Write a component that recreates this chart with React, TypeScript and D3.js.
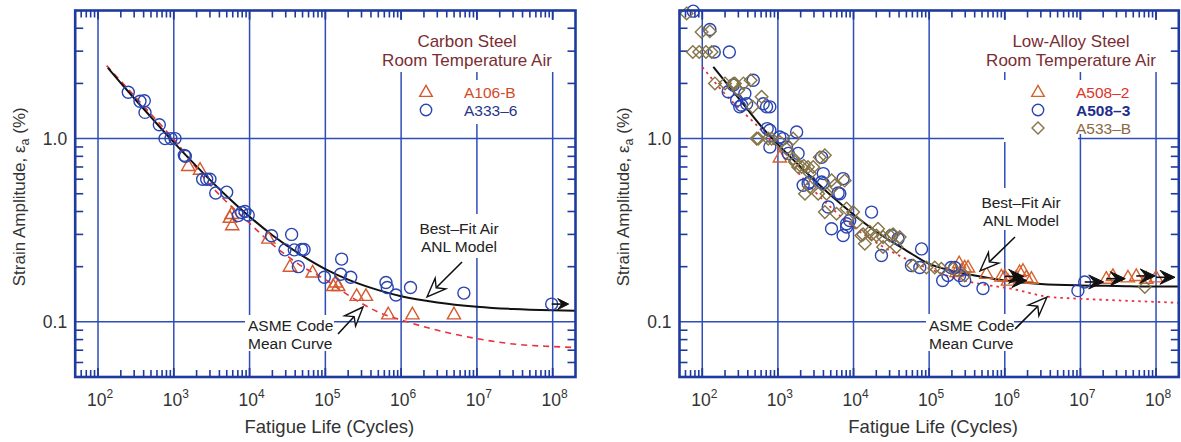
import React from "react";
import * as d3 from "d3";

// ---------- axes ----------
const X_DOMAIN: [number, number] = [50, 2e8];
const Y_DOMAIN: [number, number] = [0.05, 5];
const X_DECADES = [1e2, 1e3, 1e4, 1e5, 1e6, 1e7, 1e8];
const X_EXPONENTS = ["2", "3", "4", "5", "6", "7", "8"];
const Y_MAJOR = [0.1, 1];
const Y_LABELS = ["0.1", "1.0"];

// ---------- Carbon steel (left) ----------
const csA106N = [1550, 2220, 5500, 5800, 5900, 17700, 34100, 67900, 127000, 137000, 148000, 259000, 343000, 676000, 1410000, 4980000];
const csA106E = [0.71, 0.677, 0.37, 0.388, 0.337, 0.285, 0.2, 0.186, 0.157, 0.164, 0.157, 0.1387, 0.1387, 0.11, 0.11, 0.11];
const csA333N = [251, 358, 408, 417, 644, 766, 918, 1037, 1377, 1420, 2404, 2716, 3000, 3573, 4990, 7100, 7870, 8700, 9600, 19500, 29300, 35900, 38900, 44000, 48600, 52300, 96900, 159000, 164000, 216000, 631000, 656000, 854000, 1330000, 6730000, 97000000];
const csA333E = [1.79, 1.6, 1.61, 1.39, 1.19, 1.0, 1.0, 1.0, 0.81, 0.8, 0.6, 0.6, 0.6, 0.505, 0.51, 0.38, 0.395, 0.4, 0.383, 0.295, 0.247, 0.3, 0.247, 0.2, 0.248, 0.248, 0.175, 0.182, 0.22, 0.175, 0.164, 0.154, 0.14, 0.154, 0.1435, 0.125];
const csA333Runout = [97000000];
const csFitN = [135, 200, 300, 500, 1000, 2000, 5000, 1e4, 2e4, 5e4, 1e5, 2e5, 5e5, 1e6, 3e6, 1e7, 3e7, 1e8, 2e8];
const csFitE = [2.43, 2.01, 1.66, 1.31, 0.953, 0.705, 0.485, 0.375, 0.297, 0.229, 0.194, 0.17, 0.149, 0.138, 0.1276, 0.121, 0.1175, 0.1155, 0.1148];
const csAsmeN = [130, 200, 500, 1000, 3000, 1e4, 2e4, 5e4, 1e5, 2e5, 5e5, 1.2e6, 4e6, 1e7, 3e7, 1e8, 2e8];
const csAsmeE = [2.5, 2.06, 1.36, 0.99, 0.56, 0.345, 0.265, 0.2, 0.17, 0.14, 0.113, 0.1, 0.0875, 0.081, 0.0757, 0.0733, 0.0724];

// ---------- Low-alloy steel (right) ----------
const lasA5082N = [1060, 230000, 249000, 267000, 295000, 327000, 571000, 900000, 998000, 1100000, 1420000, 1570000, 1740000, 1930000, 2250000, 22000000, 26900000, 42500000, 54800000, 74300000, 100000000];
const lasA5082E = [0.79, 0.187, 0.209, 0.19, 0.198, 0.198, 0.183, 0.177, 0.177, 0.168, 0.175, 0.187, 0.19, 0.175, 0.172, 0.172, 0.178, 0.175, 0.178, 0.172, 0.175];
const lasA5082Runout = [998000, 1100000, 22000000, 54800000, 100000000];
const lasA5083N = [76, 126, 144, 228, 220, 257, 331, 366, 386, 472, 708, 783, 722, 783, 1060, 1300, 1770, 1850, 3780, 2510, 3780, 6590, 7290, 4630, 17300, 8090, 7290, 8900, 23400, 5120, 8090, 31800, 38800, 79400, 58300, 75200, 195000, 177000, 253000, 295000, 515000, 151000, 218000, 9270000, 11400000, 2160, 2640, 3980, 6260, 3980, 1370, 783, 1170, 640, 285, 313];
const lasA5083E = [4.96, 3.94, 2.97, 2.97, 1.8, 1.96, 1.52, 1.76, 1.55, 2.08, 1.49, 1.49, 1.134, 0.9, 1.02, 0.9, 1.087, 0.83, 0.79, 0.568, 0.58, 0.5, 0.605, 0.423, 0.397, 0.329, 0.296, 0.357, 0.23, 0.322, 0.343, 0.296, 0.284, 0.25, 0.203, 0.198, 0.198, 0.179, 0.179, 0.168, 0.152, 0.168, 0.198, 0.148, 0.165, 0.556, 0.58, 0.568, 0.505, 0.644, 0.83, 1.11, 1.0, 1.55, 1.62, 1.49];
const lasA5083Runout = [11400000];
const lasA533N = [62, 98, 126, 75, 91, 112, 133, 147, 200, 257, 299, 436, 463, 609, 550, 745, 826, 1060, 1590, 1680, 2060, 2650, 2930, 4180, 2280, 2650, 3410, 4400, 5130, 5660, 4180, 5960, 8090, 9890, 10970, 12700, 14100, 17300, 21100, 24600, 30200, 37000, 13400, 16400, 20100, 24600, 33400, 40800, 61400, 92000, 118600, 145000, 207000, 295000, 71000000, 524, 270, 350, 1300, 1590, 1850, 2200, 2500, 3580, 7640];
const lasA533E = [4.82, 3.82, 3.85, 2.97, 2.97, 2.97, 2.97, 2.0, 2.0, 1.99, 1.84, 2.08, 1.49, 1.69, 1.0, 1.0, 1.0, 0.958, 1.0, 0.745, 0.7, 0.644, 0.7, 0.81, 0.5, 0.544, 0.5, 0.5, 0.592, 0.556, 0.397, 0.389, 0.415, 0.397, 0.35, 0.296, 0.267, 0.3, 0.322, 0.256, 0.296, 0.256, 0.3, 0.31, 0.296, 0.29, 0.3, 0.29, 0.203, 0.198, 0.198, 0.195, 0.195, 0.179, 0.155, 1.0, 2.0, 2.0, 0.88, 0.78, 0.7, 0.71, 0.7, 0.79, 0.59];
const lasFitN = [140, 300, 640, 1000, 2000, 5000, 1e4, 2e4, 5e4, 1e5, 2e5, 5e5, 1e6, 3e6, 1e7, 3e7, 1e8, 2e8];
const lasFitE = [2.46, 1.67, 1.134, 0.93, 0.7, 0.49, 0.385, 0.31, 0.245, 0.207, 0.19, 0.176, 0.168, 0.161, 0.158, 0.157, 0.156, 0.156];
const lasAsmeN = [100, 200, 578, 1000, 3000, 1e4, 3e4, 1e5, 2e5, 4.2e5, 1.28e6, 3.55e6, 1e7, 3e7, 1e8, 2e8];
const lasAsmeE = [2.46, 1.75, 1.134, 0.88, 0.52, 0.33, 0.245, 0.195, 0.175, 0.1625, 0.151, 0.1375, 0.1336, 0.131, 0.1285, 0.127];

// ---------- styling ----------
const FONT = "'Liberation Sans', Arial, Helvetica, sans-serif";
const FRAME = "#1f3a9e";
const GRID = "#2f4db8";
const TEXT = "#333333";
const Y_RANGE: [number, number] = [377, 10.5];

type Series = {
  name: string;
  N: number[];
  E: number[];
  shape: "circle" | "triangle" | "diamond";
  color: string;
  labelColor: string;
  runout?: number[];
  bold?: boolean;
};

type Curve = { N: number[]; E: number[]; color: string; dash?: string; width: number };

type Note = {
  lines: string[];
  x: number;
  y: number;
  anchor: "start" | "middle";
  box: [number, number, number, number];
  arrow: [number, number, number, number];
};

type PanelCfg = {
  xRange: [number, number];
  title: string[];
  titleX: number;
  titleBox: [number, number, number, number];
  legendBoxes: [number, number, number, number][];
  legendSymX: number;
  legendTextX: number;
  series: Series[];
  fit: Curve;
  asme: Curve;
  notes: Note[];
  yTitleX: number;
  headLen: number;
  headHalf: number;
  runLen: number;
};

function markerPath(shape: string, s = 1) {
  if (shape === "triangle") return `M0,${-7 * s}L${6.6 * s},${4.6 * s}L${-6.6 * s},${4.6 * s}Z`;
  if (shape === "diamond") return `M0,${-6.3 * s}L${6.3 * s},0L0,${6.3 * s}L${-6.3 * s},0Z`;
  const r = 6 * s;
  return `M${r},0A${r},${r} 0 1,1 ${-r},0A${r},${r} 0 1,1 ${r},0Z`;
}

function hollowArrow(a: [number, number, number, number]) {
  const [x1, y1, x2, y2] = a;
  const dx = x2 - x1, dy = y2 - y1;
  const len = Math.hypot(dx, dy);
  const ux = dx / len, uy = dy / len;
  const nx = -uy, ny = ux;
  const hl = 19, hw = 7.5, notch = 6;
  const bx = x2 - ux * hl, by = y2 - uy * hl;
  const mx = x2 - ux * (hl - notch), my = y2 - uy * (hl - notch);
  const head = `M${x2},${y2}L${bx + nx * hw},${by + ny * hw}L${mx},${my}L${bx - nx * hw},${by - ny * hw}Z`;
  return { shaft: `M${x1},${y1}L${mx},${my}`, head };
}

function Panel({ cfg }: { cfg: PanelCfg }) {
  const x = d3.scaleLog().domain(X_DOMAIN).range(cfg.xRange);
  const y = d3.scaleLog().domain(Y_DOMAIN).range(Y_RANGE);
  const [x0, x1] = cfg.xRange;
  const [yb, yt] = Y_RANGE;

  const minorX: number[] = [];
  for (let e = 1; e <= 8; e++) for (let k = 2; k <= 9; k++) {
    const v = k * Math.pow(10, e);
    if (v > X_DOMAIN[0] * 1.0001 && v < X_DOMAIN[1] * 0.9999) minorX.push(v);
  }
  const minorY: number[] = [];
  for (let e = -2; e <= 0; e++) for (let k = 2; k <= 9; k++) {
    const v = k * Math.pow(10, e);
    if (v > Y_DOMAIN[0] * 1.0001 && v < Y_DOMAIN[1] * 0.9999) minorY.push(v);
  }

  const line = d3
    .line<[number, number]>()
    .x((d) => x(d[0]))
    .y((d) => y(d[1]))
    .curve(d3.curveMonotoneX);

  const pts = (N: number[], E: number[]) => N.map((n, i) => [n, E[i]] as [number, number]);
  const tl = 7;
  const ml = 9;
  const cx = (x0 + x1) / 2;
  const cy = (yb + yt) / 2;

  return (
    <g>
      {/* grid */}
      {X_DECADES.map((d) => (
        <line key={"gx" + d} x1={x(d)} x2={x(d)} y1={yt} y2={yb} stroke={GRID} strokeWidth={1.5} />
      ))}
      {Y_MAJOR.map((d) => (
        <line key={"gy" + d} x1={x0} x2={x1} y1={y(d)} y2={y(d)} stroke={GRID} strokeWidth={1.5} />
      ))}

      {/* white boxes behind text */}
      {[cfg.titleBox, ...cfg.legendBoxes, ...cfg.notes.map((n) => n.box)].map((b, i) => (
        <rect key={"bx" + i} x={b[0]} y={b[1]} width={b[2] - b[0]} height={b[3] - b[1]} fill="#ffffff" />
      ))}

      {/* ticks */}
      {minorX.map((v) => (
        <g key={"tx" + v}>
          <line x1={x(v)} x2={x(v)} y1={yb} y2={yb - tl} stroke={FRAME} strokeWidth={1.6} />
          <line x1={x(v)} x2={x(v)} y1={yt} y2={yt + tl} stroke={FRAME} strokeWidth={1.6} />
        </g>
      ))}
      {X_DECADES.map((v) => (
        <g key={"txm" + v}>
          <line x1={x(v)} x2={x(v)} y1={yb} y2={yb - ml} stroke={FRAME} strokeWidth={1.8} />
          <line x1={x(v)} x2={x(v)} y1={yt} y2={yt + ml} stroke={FRAME} strokeWidth={1.8} />
        </g>
      ))}
      {minorY.map((v) => (
        <g key={"ty" + v}>
          <line x1={x0} x2={x0 + tl + 1} y1={y(v)} y2={y(v)} stroke={FRAME} strokeWidth={1.6} />
          <line x1={x1} x2={x1 - tl - 1} y1={y(v)} y2={y(v)} stroke={FRAME} strokeWidth={1.6} />
        </g>
      ))}

      {/* curves */}
      <path d={line(pts(cfg.asme.N, cfg.asme.E)) || ""} fill="none" stroke={cfg.asme.color} strokeWidth={cfg.asme.width} strokeDasharray={cfg.asme.dash} />
      <path d={line(pts(cfg.fit.N, cfg.fit.E)) || ""} fill="none" stroke={cfg.fit.color} strokeWidth={cfg.fit.width} />

      {/* data markers */}
      {cfg.series.map((s) => (
        <g key={s.name}>
          {s.N.map((n, i) => (
            <path
              key={i}
              d={markerPath(s.shape)}
              transform={`translate(${x(n)},${y(s.E[i])})`}
              fill="none"
              stroke={s.color}
              strokeWidth={1.4}
            />
          ))}
        </g>
      ))}

      {/* run-out arrows */}
      {cfg.series.map((s) =>
        s.N.map((n, i) => {
          if (!s.runout || !s.runout.includes(n)) return null;
          const px = x(n), py = y(s.E[i]);
          const L = cfg.runLen, H = cfg.headLen, W = cfg.headHalf;
          const tip = px + L;
          return (
            <g key={s.name + "ro" + i}>
              <line x1={px} x2={tip - 4} y1={py} y2={py} stroke="#111" strokeWidth={1.6} />
              <path
                d={`M${tip},${py}L${tip - H},${py - W}L${tip - H * 0.62},${py}L${tip - H},${py + W}Z`}
                fill="#111"
                stroke="#111"
                strokeWidth={1}
              />
            </g>
          );
        })
      )}

      {/* frame */}
      <rect x={x0} y={yt} width={x1 - x0} height={yb - yt} fill="none" stroke={FRAME} strokeWidth={2.6} />

      {/* tick labels */}
      {X_DECADES.map((d, i) => (
        <text key={"lx" + d} x={x(d) + 2} y={406} textAnchor="middle" fontFamily={FONT} fontSize={17.5} fill={TEXT}>
          10
          <tspan fontSize={12} dy={-8}>
            {X_EXPONENTS[i]}
          </tspan>
        </text>
      ))}
      {Y_MAJOR.map((d, i) => (
        <text key={"ly" + d} x={x0 - 8} y={y(d) + 6} textAnchor="end" fontFamily={FONT} fontSize={17.5} fill={TEXT}>
          {Y_LABELS[i]}
        </text>
      ))}

      {/* axis titles */}
      <text x={cx + 4} y={433} textAnchor="middle" fontFamily={FONT} fontSize={18.5} fill={TEXT}>
        Fatigue Life (Cycles)
      </text>
      <text
        transform={`translate(${cfg.yTitleX},${cy + 3}) rotate(-90)`}
        textAnchor="middle"
        fontFamily={FONT}
        fontSize={17}
        fill={TEXT}
      >
        Strain Amplitude, ε
        <tspan fontSize={12.5} dy={4}>a</tspan>
        <tspan dy={-4}> (%)</tspan>
      </text>

      {/* legend */}
      {cfg.title.map((t, i) => (
        <text key={"tt" + i} x={cfg.titleX} y={47 + i * 19} textAnchor="middle" fontFamily={FONT} fontSize={17} fill="#7a2d33">
          {t}
        </text>
      ))}
      {cfg.series.map((s, i) => (
        <g key={"lg" + s.name}>
          <path d={markerPath(s.shape, 0.95)} transform={`translate(${cfg.legendSymX},${92 + i * 18})`} fill="none" stroke={s.color} strokeWidth={1.4} />
          <text x={cfg.legendTextX} y={97.5 + i * 18} fontFamily={FONT} fontSize={15.5} fill={s.labelColor} fontWeight={s.bold ? 600 : 400}>
            {s.name}
          </text>
        </g>
      ))}

      {/* annotations */}
      {cfg.notes.map((n, i) => {
        const ar = hollowArrow(n.arrow);
        return (
          <g key={"nt" + i}>
            {n.lines.map((l, j) => (
              <text key={j} x={n.x} y={n.y + j * 17.5} textAnchor={n.anchor} fontFamily={FONT} fontSize={15.5} fill="#222">
                {l}
              </text>
            ))}
            <path d={ar.shaft} stroke="#111" strokeWidth={1.6} fill="none" />
            <path d={ar.head} stroke="#111" strokeWidth={1.4} fill="#ffffff" strokeLinejoin="miter" />
          </g>
        );
      })}
    </g>
  );
}

const leftCfg: PanelCfg = {
  xRange: [75.2, 575.5],
  title: ["Carbon Steel", "Room Temperature Air"],
  titleX: 467,
  titleBox: [376, 20, 558, 72],
  legendBoxes: [[405, 80, 522, 124]],
  legendSymX: 426,
  legendTextX: 464,
  series: [
    { name: "A106-B", N: csA106N, E: csA106E, shape: "triangle", color: "#d5582e", labelColor: "#d24a2a" },
    { name: "A333\u20136", N: csA333N, E: csA333E, shape: "circle", color: "#2a45b0", labelColor: "#27358a", runout: csA333Runout },
  ],
  fit: { N: csFitN, E: csFitE, color: "#111111", width: 2 },
  asme: { N: csAsmeN, E: csAsmeE, color: "#e8313d", dash: "6 5", width: 1.6 },
  notes: [
    { lines: ["Best\u2013Fit Air", "ANL Model"], x: 459, y: 234, anchor: "middle", box: [416, 214, 502, 258], arrow: [462, 262, 427, 297] },
    { lines: ["ASME Code", "Mean Curve"], x: 248, y: 331, anchor: "start", box: [245, 315, 334, 351], arrow: [338, 334, 363, 307] },
  ],
  yTitleX: 25,
  headLen: 11,
  headHalf: 5.5,
  runLen: 17,
};

const rightCfg: PanelCfg = {
  xRange: [679.5, 1178.8],
  title: ["Low-Alloy Steel", "Room Temperature Air"],
  titleX: 1071,
  titleBox: [983, 20, 1162, 72],
  legendBoxes: [
    [1004, 80, 1078, 142],
    [1078, 80, 1134, 134],
  ],
  legendSymX: 1038,
  legendTextX: 1076,
  series: [
    { name: "A508\u20132", N: lasA5082N, E: lasA5082E, shape: "triangle", color: "#d4622e", labelColor: "#e03228", runout: lasA5082Runout },
    { name: "A508\u20133", N: lasA5083N, E: lasA5083E, shape: "circle", color: "#2a45b0", labelColor: "#1e2d8c", runout: lasA5083Runout, bold: true },
    { name: "A533\u2013B", N: lasA533N, E: lasA533E, shape: "diamond", color: "#857449", labelColor: "#8a6840" },
  ],
  fit: { N: lasFitN, E: lasFitE, color: "#111111", width: 2 },
  asme: { N: lasAsmeN, E: lasAsmeE, color: "#e8313d", dash: "2.5 4", width: 1.8 },
  notes: [
    { lines: ["Best\u2013Fit Air", "ANL Model"], x: 1021, y: 208, anchor: "middle", box: [979, 188, 1064, 230], arrow: [1015, 237, 980, 271] },
    { lines: ["ASME Code", "Mean Curve"], x: 929, y: 331, anchor: "start", box: [926, 314, 1014, 351], arrow: [1015, 329, 1047, 297] },
  ],
  yTitleX: 629,
  headLen: 15,
  headHalf: 7,
  runLen: 19,
};

export default function App() {
  return (
    <svg
      width={1181}
      height={442}
      viewBox="0 0 1181 442"
      style={{ position: "absolute", left: 0, top: 0, background: "#ffffff" }}
    >
      <rect x={0} y={0} width={1181} height={442} fill="#ffffff" />
      <Panel cfg={leftCfg} />
      <Panel cfg={rightCfg} />
    </svg>
  );
}
